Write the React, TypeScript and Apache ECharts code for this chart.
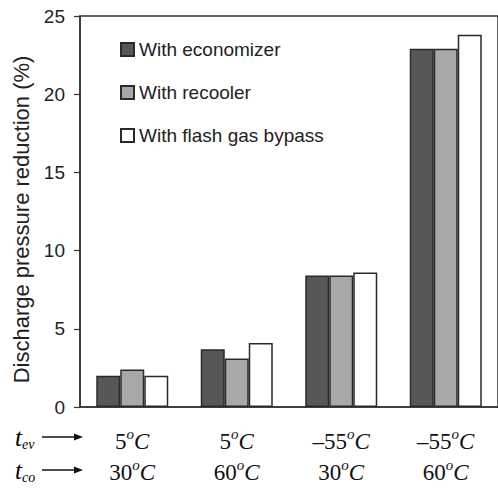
import React, { useEffect, useRef } from "react";
import * as echarts from "echarts";

const tEv = ["5", "5", "–55", "–55"];
const tCo = ["30", "60", "30", "60"];
const categories = ["c1", "c2", "c3", "c4"];
const seriesNames = ["With economizer", "With recooler", "With flash gas bypass"];
const economizer = [2.0, 3.7, 8.4, 22.9];
const recooler = [2.4, 3.1, 8.4, 22.9];
const flashGas = [2.0, 4.1, 8.6, 23.8];
const yTicks = { min: 0, max: 25, interval: 5 };

const colors = ["#555759", "#a7a8aa", "#ffffff"];
const serif = "'Liberation Serif', 'Times New Roman', serif";
const sans = "'Liberation Sans', Arial, sans-serif";

export default function App() {
  const ref = useRef<HTMLDivElement>(null);
  useEffect(() => {
    if (!ref.current) return;
    const chart = echarts.init(ref.current, undefined, { renderer: "svg" });
    const data = [economizer, recooler, flashGas];
    const richDeg = {
      n: { fontFamily: serif, fontSize: 23, color: "#111", lineHeight: 31 },
      s: { fontFamily: serif, fontSize: 15, fontStyle: "italic", color: "#111", lineHeight: 14, verticalAlign: "top" },
      c: { fontFamily: serif, fontSize: 23, fontStyle: "italic", color: "#111", lineHeight: 31 },
    };
    const sideLabel = (sub: string, y: number) => ({
      type: "group",
      children: [
        {
          type: "text",
          x: 15,
          y: y,
          style: {
            text: `{t|t}{b|${sub}}`,
            verticalAlign: "middle",
            rich: {
              t: { fontFamily: serif, fontSize: 25, fontStyle: "italic", color: "#111", lineHeight: 28 },
              b: { fontFamily: serif, fontSize: 14, fontStyle: "italic", color: "#111", lineHeight: 13, verticalAlign: "bottom" },
            },
          },
        },
        {
          type: "line",
          shape: { x1: 42, y1: y, x2: 76, y2: y },
          style: { stroke: "#111", lineWidth: 1.6 },
        },
        {
          type: "polygon",
          shape: { points: [[83, y], [74, y - 3.5], [74, y + 3.5]] },
          style: { fill: "#111" },
        },
      ],
    });
    chart.setOption({
      animation: false,
      backgroundColor: "#fff",
      grid: { left: 80, width: 420, top: 16, bottom: 82, show: true, borderColor: "#333", borderWidth: 1.5 },
      legend: {
        orient: "vertical",
        left: 115,
        top: 35,
        icon: "rect",
        itemWidth: 13,
        itemHeight: 13,
        itemGap: 24,
        textStyle: { fontFamily: sans, fontSize: 19, color: "#222" },
        data: seriesNames,
      },
      xAxis: {
        type: "category",
        data: categories,
        axisTick: { show: false },
        axisLine: { lineStyle: { color: "#333", width: 1.5 } },
        axisLabel: {
          margin: 19,
          interval: 0,
          formatter: (_v: string, i: number) =>
            `{n|${tEv[i]}}{s|o}{c|C}\n{n|${tCo[i]}}{s|o}{c|C}`,
          rich: richDeg,
        },
      },
      yAxis: {
        type: "value",
        min: yTicks.min,
        max: yTicks.max,
        interval: yTicks.interval,
        name: "Discharge pressure reduction (%)",
        nameLocation: "middle",
        nameRotate: 90,
        nameGap: 47,
        nameTextStyle: { fontFamily: sans, fontSize: 22, color: "#222", padding: [0, 16, 0, 0] },
        splitLine: { show: false },
        axisLine: { show: true, lineStyle: { color: "#333", width: 1.5 } },
        axisTick: { show: true, inside: false, length: 6, lineStyle: { color: "#333", width: 1.2 } },
        axisLabel: { fontFamily: sans, fontSize: 19, color: "#222", margin: 15 },
      },
      series: seriesNames.map((name, k) => ({
        name,
        type: "bar",
        data: data[k],
        barWidth: 24,
        barGap: "0%",
        itemStyle: { color: colors[k], borderColor: "#2a2a2a", borderWidth: 1.5 },
      })),
      graphic: [sideLabel("ev", 437), sideLabel("co", 470)],
    });
    return () => chart.dispose();
  }, []);
  return (
    <div
      ref={ref}
      style={{ position: "absolute", left: 0, top: 0, width: 498, height: 489 }}
    />
  );
}
